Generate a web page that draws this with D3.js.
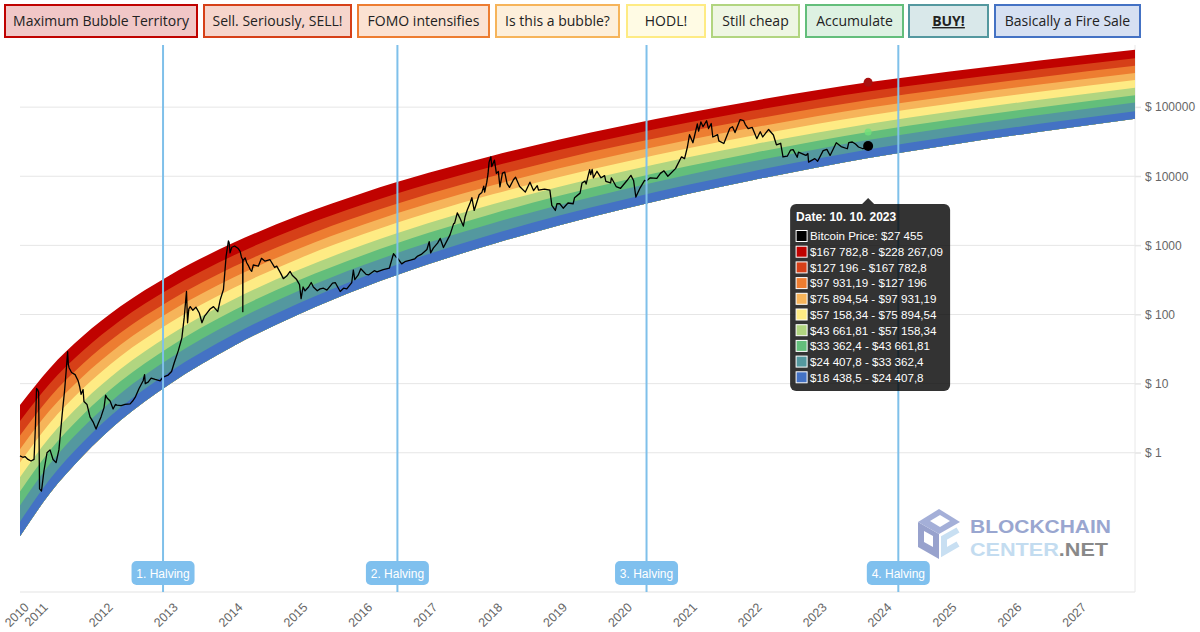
<!DOCTYPE html>
<html><head><meta charset="utf-8">
<script src="https://cdn.jsdelivr.net/npm/d3@7"></script>
<style>
html,body{margin:0;padding:0;background:#fff;}
svg{display:block;font-family:"Liberation Sans",Arial,Helvetica,sans-serif;}
</style></head><body>
<svg id="chart" width="1200" height="632"></svg>
<script>
// ---------------- DATA ----------------
// bands, bottom (blue) to top (red)
const bandNames = ["Basically a Fire Sale","BUY!","Accumulate","Still cheap","HODL!","Is this a bubble?","FOMO intensifies","Sell. Seriously, SELL!","Maximum Bubble Territory"];
const bandColors = ["#4472c4","#54989f","#63be7b","#b1d580","#feeb84","#f6b45a","#ed7d31","#d64018","#c00200"];

// band edge values (USD) at these dates
const bandDates = ["2010-09-15","2011-03-01","2011-09-01","2012-04-01","2013-01-01","2014-01-01","2015-01-01","2016-01-01","2017-01-01","2018-01-01","2019-01-01","2020-01-01","2021-01-01","2022-01-01","2023-01-01","2023-10-10","2025-01-01","2026-06-01","2027-11-20"];
const edge0 = [0.0617,0.257,0.891,2.92,9.73,35.3,101,247,536,1057,1945,3357,5572,8831,13552,18438.5,28184,43954,67764];
const edge1 = [0.1005,0.409,1.39,4.46,14.6,51.8,146,352,752,1466,2673,4571,7534,11858,18030,24407.8,36983,57280,87498];
const edge2 = [0.173,0.687,2.28,7.15,22.9,79.4,220,520,1096,2113,3811,6457,10544,16444,24831,33362.4,50119,76913,116413];
const edge3 = [0.276,1.072,3.49,10.7,33.7,115,313,728,1517,2897,5176,8690,14060,21777,32659,43661.81,65163,99083,148936];
const edge4 = [0.441,1.675,5.35,16.1,49.7,166,444,1021,2104,3963,7015,11695,18793,28907,43052,57158.34,84723,127643,190546];
const edge5 = [0.723,2.679,8.37,24.7,74.6,244,643,1455,2958,5521,9683,15995,25468,38815,57544,75894.54,111429,166725,246604];
const edge6 = [1.125,4.083,12.5,36.3,108,345,895,2004,4027,7447,12912,21184,33497,50699,74645,97931.19,142889,212324,311170];
const edge7 = [1.774,6.31,19.0,54.0,157,493,1262,2780,5521,10093,17378,28250,44361,66681,97499,127196,184077,271644,395367];
const edge8 = [2.871,9.98,29.4,81.9,234,721,1811,3936,7727,13964,23823,38371,59704,89125,129419,167782.8,240991,352371,509331];
const edge9 = [4.898,16.6,47.9,130,365,1096,2698,5781,11194,19999,33729,53827,82985,123027,177011,228267.09,325087,470977,674528];

// bitcoin price (USD) as drawn: [date, price]
const btcPrice = [
["2010-09-15",0.9],["2010-10-01",0.86],["2010-10-13",0.88],["2010-10-30",0.8],["2010-11-16",0.76],["2010-12-03",0.8],
["2010-12-11",2.5],["2010-12-17",8.5],["2010-12-23",8.2],["2010-12-29",7.5],["2011-01-03",0.3],["2011-01-14",0.28],
["2011-01-28",0.55],["2011-02-14",1.0],["2011-03-03",1.1],["2011-03-20",0.8],["2011-04-06",0.72],["2011-04-22",1.1],
["2011-05-10",3.5],["2011-05-24",8],["2011-06-04",18],["2011-06-10",29],["2011-06-14",19],["2011-06-18",17],
["2011-07-02",14.5],["2011-07-22",13.5],["2011-08-08",11],["2011-08-17",9],["2011-08-25",7],["2011-09-05",8.2],
["2011-09-10",5.5],["2011-09-27",5],["2011-10-14",3.3],["2011-10-31",2.8],["2011-11-17",2.2],["2011-11-28",2.6],
["2011-12-15",3.3],["2012-01-01",4.5],["2012-01-10",6.8],["2012-01-18",6.2],["2012-02-04",5.6],["2012-02-21",4.3],
["2012-03-05",5.0],["2012-03-14",4.9],["2012-04-06",4.8],["2012-04-28",5.0],["2012-05-27",5.1],["2012-06-10",5.6],
["2012-06-24",6.3],["2012-07-16",8.5],["2012-08-08",11],["2012-08-16",13.5],["2012-08-20",10],["2012-09-05",10.5],
["2012-09-22",12],["2012-10-15",11.5],["2012-11-12",11],["2012-11-28",12.4],["2012-12-27",13.3],["2013-01-15",15],
["2013-01-30",20],["2013-02-22",30],["2013-03-14",46],["2013-03-27",90],["2013-04-09",215],["2013-04-15",76],
["2013-04-22",120],["2013-04-30",130],["2013-05-15",115],["2013-06-01",128],["2013-06-20",105],["2013-07-05",76],
["2013-07-20",95],["2013-08-02",105],["2013-08-20",120],["2013-09-08",130],["2013-10-02",110],["2013-10-16",164],
["2013-11-03",230],["2013-11-18",700],["2013-12-01",1160],["2013-12-05",1100],["2013-12-10",780],["2013-12-20",940],
["2014-01-05",980],["2014-01-25",900],["2014-02-05",820],["2014-02-12",680],["2014-02-19",620],["2014-02-20",110],
["2014-02-21",600],["2014-03-05",660],["2014-03-14",560],["2014-03-25",500],["2014-04-02",450],["2014-04-11",420],
["2014-04-20",520],["2014-05-18",500],["2014-06-05",650],["2014-06-25",590],["2014-07-23",620],["2014-08-18",480],
["2014-08-30",500],["2014-09-20",400],["2014-10-06",330],["2014-10-25",360],["2014-11-13",420],["2014-11-25",370],
["2014-12-20",320],["2015-01-05",270],["2015-01-14",170],["2015-01-25",250],["2015-02-05",220],["2015-02-25",250],
["2015-03-12",290],["2015-03-24",250],["2015-04-15",220],["2015-05-01",235],["2015-05-20",240],["2015-06-08",225],
["2015-07-10",285],["2015-07-25",290],["2015-08-22",215],["2015-09-10",240],["2015-09-28",235],["2015-10-26",290],
["2015-11-04",440],["2015-11-12",320],["2015-12-01",370],["2015-12-16",460],["2016-01-15",380],["2016-01-30",375],
["2016-03-01",430],["2016-03-16",415],["2016-04-20",445],["2016-05-25",470],["2016-06-17",760],["2016-07-01",680],
["2016-07-11",650],["2016-08-02",540],["2016-08-20",580],["2016-09-20",610],["2016-10-15",640],["2016-10-31",700],
["2016-11-20",740],["2016-12-22",870],["2017-01-04",1130],["2017-01-12",780],["2017-01-28",920],["2017-02-20",1080],
["2017-03-07",1260],["2017-03-25",930],["2017-04-15",1180],["2017-05-01",1420],["2017-05-21",2050],["2017-05-27",2100],
["2017-06-11",2950],["2017-06-25",2500],["2017-07-15",1900],["2017-07-25",2600],["2017-08-05",3200],["2017-08-22",4100],
["2017-09-01",4900],["2017-09-14",3200],["2017-09-25",3900],["2017-10-12",5400],["2017-10-27",5800],["2017-11-07",7200],
["2017-11-12",5900],["2017-11-24",8200],["2017-12-01",10800],["2017-12-07",16000],["2017-12-17",19100],["2017-12-22",13800],
["2018-01-06",17100],["2018-01-17",11000],["2018-01-28",11700],["2018-02-06",7000],["2018-02-20",11100],["2018-03-05",11500],
["2018-03-18",7800],["2018-04-01",6900],["2018-04-23",8900],["2018-05-05",9700],["2018-05-28",7100],["2018-06-29",5900],
["2018-07-25",8200],["2018-08-14",6200],["2018-09-04",7300],["2018-09-11",6300],["2018-10-15",6500],["2018-11-14",6300],
["2018-11-25",3800],["2018-12-15",3200],["2018-12-24",4000],["2019-01-09",4000],["2019-01-28",3450],["2019-02-24",4100],
["2019-03-25",4000],["2019-04-02",4900],["2019-05-03",5700],["2019-05-14",8000],["2019-05-31",8500],["2019-06-06",7700],
["2019-06-26",12500],["2019-07-02",10600],["2019-07-10",12600],["2019-07-17",9500],["2019-08-06",11800],["2019-08-29",9500],
["2019-09-18",10200],["2019-09-25",8400],["2019-10-22",8000],["2019-10-26",9500],["2019-11-22",7100],["2019-12-17",6700],
["2020-01-21",8600],["2020-02-13",10300],["2020-02-28",8700],["2020-03-12",5000],["2020-04-05",6800],["2020-04-30",8700],
["2020-05-11",8600],["2020-06-01",9500],["2020-07-08",9300],["2020-07-28",11000],["2020-08-17",12000],["2020-09-08",10000],
["2020-10-21",12900],["2020-11-24",19100],["2020-12-11",18000],["2020-12-27",26500],["2021-01-08",40000],["2021-01-27",30500],
["2021-02-21",57000],["2021-02-28",45000],["2021-03-13",61000],["2021-03-25",52000],["2021-04-14",63500],["2021-04-25",49000],
["2021-05-10",58000],["2021-05-19",37000],["2021-06-15",40000],["2021-06-22",32500],["2021-07-20",29800],["2021-08-23",49500],
["2021-09-07",52000],["2021-09-21",42800],["2021-10-20",66000],["2021-11-08",64000],["2021-11-18",56000],["2021-12-04",49000],
["2021-12-27",50800],["2022-01-22",35000],["2022-02-10",44000],["2022-02-24",37000],["2022-03-29",47500],["2022-04-25",39500],
["2022-05-12",28500],["2022-06-05",30000],["2022-06-18",19000],["2022-07-12",19500],["2022-07-30",23800],["2022-08-14",24300],
["2022-09-06",18800],["2022-09-13",22400],["2022-10-25",20000],["2022-11-05",21300],["2022-11-09",16000],["2022-12-14",18000],
["2022-12-30",16500],["2023-01-30",23500],["2023-02-20",24500],["2023-03-10",20000],["2023-04-14",30500],["2023-05-11",26900],
["2023-06-15",25000],["2023-06-23",30600],["2023-07-13",31300],["2023-07-31",29200],["2023-08-17",26500],["2023-09-11",25000],
["2023-09-30",27000],["2023-10-10",27455]
];

const halvingDates = ["2012-11-28","2016-07-09","2020-05-11","2024-03-28"];
const halvingLabels = ["1. Halving","2. Halving","3. Halving","4. Halving"];

const yTickValues = [1,10,100,1000,10000,100000];
const xTickYears = ["2011","2012","2013","2014","2015","2016","2017","2018","2019","2020","2021","2022","2023","2024","2025","2026","2027"];

const tooltipDate = "2023-10-10";
const tooltipTitle = "Date: 10. 10. 2023";

// ---------------- CHART ----------------
const parse = d3.timeParse("%Y-%m-%d");
const svg = d3.select("#chart");
const L = 20, R = 1135, T = 45, B = 592;

const x = d3.scaleTime().domain([parse(bandDates[0]), parse(bandDates[bandDates.length-1])]).range([L, R]);
const y = d3.scaleLog().domain([0.01, 1e6]).range([591, 38]);

// grid
svg.append("g").selectAll("line").data(yTickValues).join("line")
  .attr("x1", L).attr("x2", R + 6)
  .attr("y1", d => y(d)).attr("y2", d => y(d))
  .attr("stroke", "#e6e6e6").attr("stroke-width", 1);
svg.append("line").attr("x1", L).attr("x2", R).attr("y1", B).attr("y2", B).attr("stroke", "#e3e3e3");
svg.append("line").attr("x1", R).attr("x2", R).attr("y1", T).attr("y2", B).attr("stroke", "#e8e8e8");

// bands
const edges = [edge0,edge1,edge2,edge3,edge4,edge5,edge6,edge7,edge8,edge9];
const bandRows = bandDates.map((d, i) => ({date: parse(d), e: edges.map(a => a[i])}));
const gBands = svg.append("g");
for (let k = bandColors.length - 1; k >= 0; k--) {
  const area = d3.area().curve(d3.curveMonotoneX)
    .x(d => x(d.date)).y0(d => y(d.e[0])).y1(d => y(d.e[k + 1]));
  gBands.append("path").datum(bandRows).attr("d", area).attr("fill", bandColors[k]);
}

// price line
const priceRows = btcPrice.map(p => ({date: parse(p[0]), v: p[1]}));
svg.append("path").datum(priceRows)
  .attr("d", d3.line().x(d => x(d.date)).y(d => y(d.v)))
  .attr("fill", "none").attr("stroke", "#000").attr("stroke-width", 1.3).attr("stroke-linejoin", "round");

// halving lines and labels
const gH = svg.append("g");
halvingDates.forEach((d, i) => {
  const hx = x(parse(d));
  gH.append("line").attr("x1", hx).attr("x2", hx).attr("y1", T).attr("y2", B)
    .attr("stroke", "#7fc0ea").attr("stroke-width", 2);
  gH.append("rect").attr("x", hx - 31.5).attr("y", 561).attr("width", 63).attr("height", 24).attr("rx", 5)
    .attr("fill", "#7fc0ee");
  gH.append("text").attr("x", hx).attr("y", 577.5).attr("text-anchor", "middle")
    .attr("fill", "#fff").attr("font-size", 12).text(halvingLabels[i]);
});

// y axis (right)
const yAxis = d3.axisRight(y).tickValues(yTickValues).tickFormat(d => "$ " + d).tickSize(6).tickPadding(4);
const gy = svg.append("g").attr("transform", `translate(${R},0)`).call(yAxis);
gy.select(".domain").remove();
gy.selectAll(".tick line").attr("stroke", "#e6e6e6");
gy.selectAll(".tick text").attr("fill", "#666").attr("font-size", 12).attr("font-family", "Liberation Sans, Arial, sans-serif");

// x axis (bottom), rotated labels
const xTicks = [parse(bandDates[0])].concat(xTickYears.map(yy => parse(yy + "-01-01")));
const xAxis = d3.axisBottom(x).tickValues(xTicks).tickFormat(d3.timeFormat("%Y")).tickSize(0);
const gx = svg.append("g").attr("transform", `translate(0,${B})`).call(xAxis);
gx.select(".domain").remove();
gx.selectAll(".tick text").attr("x", 0).attr("y", 0).attr("dy", "0.35em")
  .attr("text-anchor", "end").attr("transform", "translate(6,13) rotate(-45)")
  .attr("fill", "#666").attr("font-size", 12.5).attr("font-family", "Liberation Sans, Arial, sans-serif");

// watermark
const wm = svg.append("g").attr("opacity", 0.9);
const cx = 939, cy = 534;
wm.append("polygon").attr("points", `${cx},${cy} ${cx-21},${cy-12} ${cx-21},${cy+13} ${cx},${cy+25}`).attr("fill", "#8d99c8");
wm.append("path").attr("d", `M${cx-15},${cy-3} L${cx-6},${cy+2} L${cx-6},${cy+13} L${cx-15},${cy+8} Z`).attr("fill", "#fff");
wm.append("polygon").attr("points", `${cx},${cy-25} ${cx+21},${cy-12} ${cx},${cy} ${cx-21},${cy-12}`).attr("fill", "#9ba7d4");
wm.append("polygon").attr("points", `${cx+1},${cy-19} ${cx+11},${cy-13} ${cx+1},${cy-7} ${cx-9},${cy-13}`).attr("fill", "#fff");
wm.append("path").attr("d", `M${cx+19},${cy-4} L${cx+5},${cy+4} L${cx+5},${cy+18} L${cx+19},${cy+10}`)
  .attr("fill", "none").attr("stroke", "#c3dcf1").attr("stroke-width", 6);
wm.append("text").attr("x", 970).attr("y", 533).attr("font-size", 18.5).attr("font-weight", "bold")
  .attr("font-family", "'Liberation Sans',Arial,sans-serif")
  .attr("textLength", 141).attr("lengthAdjust", "spacingAndGlyphs").attr("fill", "#8f9dcb").text("BLOCKCHAIN");
const t2 = wm.append("text").attr("x", 970).attr("y", 556).attr("font-size", 18.5).attr("font-weight", "bold")
  .attr("font-family", "'Liberation Sans',Arial,sans-serif")
  .attr("textLength", 138).attr("lengthAdjust", "spacingAndGlyphs");
t2.append("tspan").attr("fill", "#bdd9ef").text("CENTER");
t2.append("tspan").attr("fill", "#7d7d7d").text(".NET");

// hover points at the tooltip date
const ti = bandDates.indexOf(tooltipDate);
const tx = x(parse(tooltipDate));
svg.append("circle").attr("cx", tx).attr("cy", y(edges[9][ti])).attr("r", 4.5).attr("fill", "#a8100f");
svg.append("circle").attr("cx", tx).attr("cy", y(edges[3][ti])).attr("r", 3.5).attr("fill", "#6fe07a").attr("opacity", 0.8);
const pLast = priceRows[priceRows.length - 1];
svg.append("circle").attr("cx", x(pLast.date)).attr("cy", y(pLast.v)).attr("r", 5).attr("fill", "#000");

// tooltip
const loc = d3.formatLocale({decimal: ",", thousands: " ", grouping: [3], currency: ["$", ""]});
const fmt = loc.format(",.2~f");
const tip = svg.append("g").attr("font-family", "Liberation Sans, Arial, Helvetica, sans-serif");
const bx = tx - 78, by = 204;
tip.append("path").attr("d", `M${tx-6},${by} L${tx},${by-6} L${tx+6},${by} Z`).attr("fill", "rgba(0,0,0,0.8)");
tip.append("rect").attr("x", bx).attr("y", by).attr("width", 160).attr("height", 187).attr("rx", 6).attr("fill", "rgba(0,0,0,0.8)");
tip.append("text").attr("x", bx + 6).attr("y", by + 17).attr("fill", "#fff").attr("font-weight", "bold").attr("font-size", 12).text(tooltipTitle);
const rows = [{c: "#000", t: "Bitcoin Price: $" + fmt(pLast.v)}];
for (let k = 8; k >= 0; k--) rows.push({c: bandColors[k], t: "$" + fmt(edges[k][ti]) + " - $" + fmt(edges[k + 1][ti])});
rows.forEach((r, i) => {
  const ry = by + 32 + i * 15.7;
  tip.append("rect").attr("x", bx + 6).attr("y", ry - 5.5).attr("width", 11).attr("height", 11)
    .attr("fill", r.c).attr("stroke", "#fff").attr("stroke-width", 1);
  tip.append("text").attr("x", bx + 20).attr("y", ry + 4.3).attr("fill", "#fff").attr("font-size", 11.6).text(r.t);
});

// legend (top)
const legendX = [5, 204, 358, 496, 627, 712, 806, 909, 995];
const legendW = [192, 147, 131, 123, 78, 87, 97, 79, 145];
const gl = svg.append("g").attr("font-family", "'Open Sans', sans-serif");
for (let j = 0; j < 9; j++) {
  const k = 8 - j;
  const col = d3.color(bandColors[k]);
  const bg = d3.interpolateRgb("#ffffff", bandColors[k])(0.22);
  gl.append("rect").attr("x", legendX[j]).attr("y", 5).attr("width", legendW[j]).attr("height", 32)
    .attr("fill", bg).attr("stroke", col).attr("stroke-width", 2);
  const t = gl.append("text").attr("x", legendX[j] + legendW[j] / 2).attr("y", 26)
    .attr("text-anchor", "middle").attr("font-size", 14).attr("fill", "#222").text(bandNames[k]);
  if (bandNames[k] === "BUY!") t.attr("font-weight", "bold").attr("text-decoration", "underline");
}
</script>
</body></html>
